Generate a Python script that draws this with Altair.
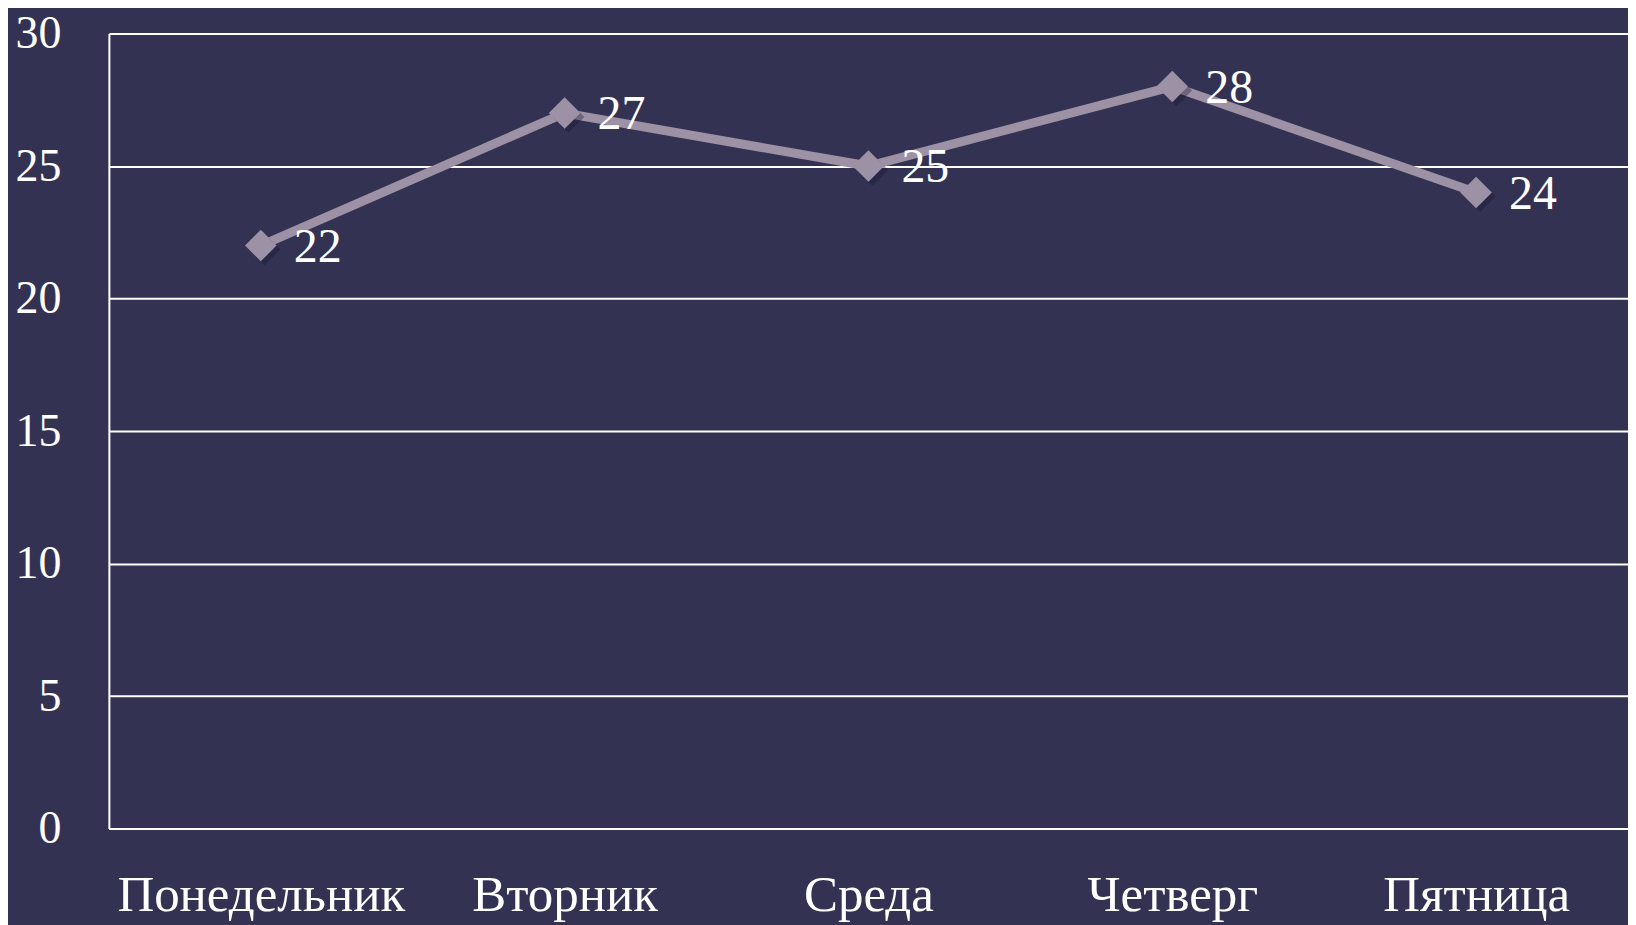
import altair as alt
import pandas as pd

days = ["Понедельник", "Вторник", "Среда", "Четверг", "Пятница"]
values = [22, 27, 25, 28, 24]
y_ticks = [0, 5, 10, 15, 20, 25, 30]

df = pd.DataFrame({"day": days, "value": values})

FONT = "Liberation Serif"
LINE = "#9d91a5"

x_enc = alt.X("day:N", sort=days, title=None,
              scale=alt.Scale(type="point", padding=0.5),
              axis=alt.Axis(labelAngle=0, labelFontSize=51, labelFont=FONT,
                            labelColor="white", labelPadding=42, labelLimit=0,
                            ticks=False, domain=True, domainColor="white",
                            domainWidth=2, grid=False))
y_enc = alt.Y("value:Q", title=None,
              scale=alt.Scale(domain=[0, 30], nice=False),
              axis=alt.Axis(values=y_ticks, labelFontSize=46, labelFont=FONT,
                            labelColor="white", labelPadding=48, ticks=False,
                            domain=True, domainColor="white", domainWidth=2,
                            grid=True, gridColor="white", gridWidth=2,
                            gridOpacity=1))

base = alt.Chart(df).encode(x=x_enc, y=y_enc)

line = base.mark_line(color=LINE, strokeWidth=9)
shadow = base.mark_point(shape="diamond", size=1000, filled=True, color="#15132a",
                         opacity=0.35, xOffset=4, yOffset=4)
points = base.mark_point(shape="diamond", size=1000, filled=True, color=LINE, opacity=1)
labels = base.mark_text(align="left", baseline="middle", dx=33, dy=2,
                        fontSize=48, font=FONT, color="white").encode(text="value:Q")

chart = alt.layer(line, shadow, points, labels).properties(
    width=1521, height=796,
    autosize=alt.AutoSizeParams(type="none"),
    padding={"left": 101, "top": 25, "right": 0, "bottom": 110},
    background="#343253",
).configure_view(stroke=None)

chart.save("out.html", embed_options={"renderer": "svg", "actions": False})
